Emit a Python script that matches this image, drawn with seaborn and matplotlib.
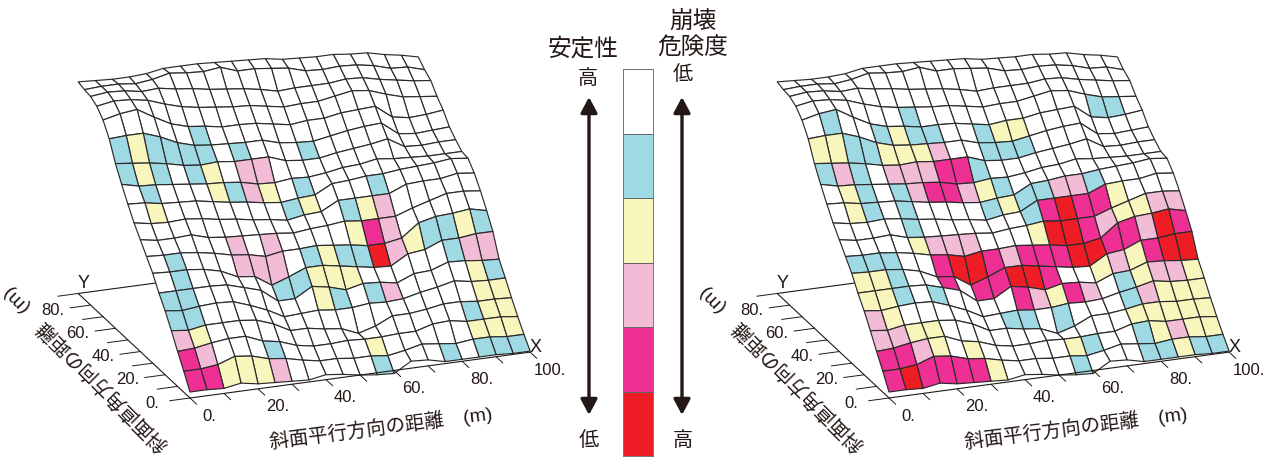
import numpy as np
import pandas as pd
import seaborn as sns
import matplotlib.pyplot as plt
from matplotlib.colors import ListedColormap, to_rgba
from mpl_toolkits.mplot3d import proj3d

# grid of the slope, metres
x_m = np.arange(0, 105, 5)
y_m = np.arange(0, 95, 5)

# ground height, first row is y = 0
surface_height = [
    [6, 6, 5, 8, 5, 4, 3, 2, 5, 3, 0, -2, -3, 7, 6, 2, 2, 2, 2, 1, 1],
    [21, 21, 23, 29, 27, 22, 20, 16, 13, 13, 11, 11, 9, 12, 16, 14, 12, 14, 14, 12, 12],
    [35, 36, 39, 41, 41, 34, 31, 25, 22, 22, 23, 22, 22, 23, 23, 28, 29, 26, 26, 26, 24],
    [50, 48, 51, 51, 51, 49, 43, 34, 34, 31, 29, 22, 27, 35, 35, 37, 40, 40, 38, 38, 37],
    [64, 62, 64, 65, 64, 58, 51, 42, 43, 44, 42, 42, 44, 43, 44, 48, 51, 55, 52, 51, 51],
    [76, 76, 76, 76, 75, 70, 65, 52, 52, 62, 59, 54, 58, 57, 54, 61, 62, 68, 67, 65, 64],
    [90, 89, 89, 87, 83, 75, 73, 62, 68, 75, 75, 72, 69, 66, 65, 75, 77, 84, 84, 86, 86],
    [101, 100, 100, 98, 95, 91, 89, 85, 88, 88, 89, 87, 85, 82, 82, 85, 98, 102, 103, 105, 101],
    [112, 109, 109, 110, 105, 103, 102, 101, 100, 98, 100, 101, 103, 101, 101, 101, 107, 112, 117, 117, 115],
    [123, 120, 119, 120, 118, 115, 113, 110, 108, 105, 108, 109, 118, 118, 118, 118, 125, 126, 126, 129, 127],
    [136, 135, 132, 131, 130, 127, 124, 122, 119, 117, 119, 120, 129, 130, 132, 132, 134, 135, 136, 138, 136],
    [150, 146, 145, 143, 141, 139, 138, 136, 132, 131, 133, 132, 134, 137, 138, 141, 139, 138, 137, 137, 137],
    [165, 163, 161, 158, 154, 152, 153, 151, 151, 151, 145, 143, 143, 146, 148, 150, 153, 143, 142, 143, 143],
    [184, 185, 185, 179, 171, 166, 164, 163, 162, 162, 157, 155, 154, 157, 160, 162, 163, 150, 148, 149, 150],
    [197, 201, 203, 193, 184, 179, 177, 174, 174, 173, 170, 167, 169, 169, 172, 173, 174, 161, 158, 159, 161],
    [205, 208, 207, 204, 198, 193, 190, 188, 186, 185, 182, 179, 180, 180, 183, 186, 184, 178, 173, 171, 169],
    [209, 211, 210, 207, 208, 205, 203, 200, 198, 196, 193, 189, 190, 190, 190, 192, 191, 187, 184, 181, 179],
    [210, 211, 211, 209, 211, 215, 213, 212, 214, 208, 208, 206, 204, 199, 198, 199, 198, 195, 190, 189, 184],
    [212, 211, 210, 210, 211, 214, 214, 214, 213, 212, 211, 210, 207, 206, 205, 205, 203, 202, 198, 195, 191],
]

# stability class of each cell, first row is y = 0
# . white, B blue, Y yellow, P pink, M magenta, R red
left_classes = [
    "MMYYYP.....B...B.BBB",
    "MP...B.....Y.....YYY",
    "PY...............BYY",
    "BB................YY",
    "BB.......YB.BP....YB",
    ".B.....BBYYY.....BPP",
    ".B...PPP.BYBBRPYBBYB",
    ".....P.P....YMP.....",
    "............BYP.....",
    ".Y.......BY...B.....",
    ".B...YBPY.B.........",
    "BYB.BY.PP...........",
    "BYBBBB.B...B........",
    ".....B..............",
    "....................",
    "....................",
    "....................",
    "....................",
]
right_classes = [
    "MRMMMMY....B...BBYBB",
    "MMPY.Y.....YB..BYPYY",
    "PPYY...........YYYYY",
    "PY......BB.B...BPYYY",
    "YYB.B....MPYMP.BYPPY",
    "YYB..M.MMRRM..YPYMRR",
    "BBB..MRRMPMMMRRMMPRM",
    "....YPPP...YRRMPYYPP",
    "....B......BMRMMY...",
    ".YB.B....BYBBPPB....",
    ".YB.BPMMPYB.........",
    "BPB.PPPMMB..........",
    "YYBBYYYP..BBB.......",
    ".B..BYBB..BYY.......",
    "......B..........BB.",
    "....................",
    "....................",
    "....................",
]

class_codes = ".BYPMR"
class_colors = ["#FFFFFF", "#9FD9E4", "#F8F6BC", "#F2BBD6", "#EE2F93", "#EE1C25"]
levels = [0, 1, 2, 3, 4, 5]

x_ticks = [0, 10, 20, 30, 40, 50, 60, 70, 80, 90, 100]
x_tick_labels = [0, 20, 40, 60, 80, 100]
y_ticks = [0, 10, 20, 30, 40, 50, 60, 70, 80, 90]
y_tick_labels = [0, 20, 40, 60, 80]

W, H = 1277, 458
INK = "#231815"
BOX = (364, 315, 235)

sns.set_theme(style="white")
plt.rcParams['font.family'] = ['Liberation Sans', 'Noto Sans CJK JP', 'DejaVu Sans']

fig = plt.figure(figsize=(W / 100, H / 100), dpi=100)
fig.patch.set_facecolor("white")


def project(ax, x, y, z):
    px, py, _ = proj3d.proj_transform(x, y, z, ax.get_proj())
    return ax.transData.transform((px, py))


def fit_axes(ax, origin_px, xend_px):
    # scale and move the 3d axes so the floor axis lands on the wanted pixels
    want_a = np.array([origin_px[0], H - origin_px[1]])
    want_b = np.array([xend_px[0], H - xend_px[1]])
    fig.canvas.draw()
    a, b = project(ax, 0, 0, 0), project(ax, 100, 0, 0)
    ax.set_box_aspect(BOX, zoom=np.linalg.norm(want_b - want_a) / np.linalg.norm(b - a))
    fig.canvas.draw()
    a = project(ax, 0, 0, 0)
    pos = ax.get_position(original=True)
    d = want_a - a
    ax.set_position([pos.x0 + d[0] / W, pos.y0 + d[1] / H, pos.width, pos.height])
    fig.canvas.draw()


def floor_text(ax, x, y, z, s, size=12):
    # 3d position to figure text, so it stays an ordinary text object
    p = project(ax, x, y, z)
    fig.text(p[0] / W, p[1] / H, s, fontsize=size, color=INK, ha='center', va='center')


def draw_slope(classes, origin_px, xend_px):
    side = 660
    ax = fig.add_axes([0.1, -0.2, side / W, side / H], projection='3d', proj_type='ortho')
    ax.view_init(elev=20.8, azim=-110.8)
    ax.set_xlim(0, 100)
    ax.set_ylim(0, 90)
    ax.set_zlim(0, 220)
    ax.set_box_aspect(BOX)
    ax.set_axis_off()
    ax.patch.set_visible(False)
    ax.computed_zorder = False

    X, Y = np.meshgrid(x_m, y_m)
    Z = np.array(surface_height, dtype=float)
    colors = np.array([[to_rgba(class_colors[class_codes.index(c)]) for c in row] for row in classes])
    surf = ax.plot_surface(X, Y, Z, facecolors=colors, rstride=1, cstride=1, shade=False, zorder=2)
    surf.set_edgecolor("#2b2b2b")
    surf.set_linewidth(0.85)

    # floor axes
    ax.plot([0, 100], [90, 90], [0, 0], color=INK, lw=0.8, zorder=1)
    ax.plot([0, 100], [0, 0], [0, 0], color=INK, lw=0.8, zorder=3)
    ax.plot([0, 0], [0, 90], [0, 0], color=INK, lw=0.8, zorder=3)
    for t in x_ticks:
        ax.plot([t, t], [0, -5.4], [0, 0], color=INK, lw=0.7, zorder=3)
    for t in y_ticks:
        ax.plot([0, -6], [t, t], [0, 0], color=INK, lw=0.7, zorder=3)
    fit_axes(ax, origin_px, xend_px)

    for t in x_tick_labels:
        floor_text(ax, t, -15.5, 0, f"{t}.")
    for t in y_tick_labels:
        floor_text(ax, -11, t, 0, f"{t}.")
    floor_text(ax, 1.5, 90, 9, "Y", 13)
    floor_text(ax, 101.5, 0, 4, "X", 13)
    return ax


draw_slope(left_classes, (190, 398), (530, 351))
draw_slope(right_classes, (889, 398), (1229, 351))

# legend bar in the middle
cax = fig.add_axes([623 / W, (H - 456) / H, 30 / W, 387 / H])
sns.heatmap(pd.DataFrame({"level": levels}), ax=cax, cmap=ListedColormap(class_colors),
            vmin=-0.5, vmax=5.5, cbar=False, xticklabels=False, yticklabels=False,
            linewidths=0.5, linecolor="#666666")
for sp in cax.spines.values():
    sp.set_visible(True)
    sp.set_color("#777777")
    sp.set_linewidth(0.7)

# overlay in pixels for the texts and arrows
ov = fig.add_axes([0, 0, 1, 1])
ov.set_xlim(0, W)
ov.set_ylim(H, 0)
ov.axis('off')
ov.patch.set_visible(False)

for x0 in [589, 682]:
    ov.annotate('', xy=(x0, 415), xytext=(x0, 97),
                arrowprops=dict(arrowstyle='<|-|>,head_length=0.47,head_width=0.25', lw=2.4,
                                color=INK, mutation_scale=20, shrinkA=0, shrinkB=0))

big = dict(fontsize=17, color=INK, ha='center', va='center')
small = dict(fontsize=14.5, color=INK, ha='center', va='center')
ov.text(583, 49, "安定性", **big)
ov.text(693, 21, "崩壊", **big)
ov.text(693, 49, "危険度", **big)
ov.text(588, 78, "高", **small)
ov.text(683, 75, "低", **small)
ov.text(589, 440, "低", **small)
ov.text(683, 441, "高", **small)

for dx_x, dx_y in [(0, 0), (695, 696)]:
    ov.text(381 + dx_x, 427, "斜面平行方向の距離　(m)", fontsize=14, color=INK, rotation=7.3,
            ha='center', va='center', rotation_mode='anchor')
    ov.text(85 + dx_y, 369, "斜面直角方向の距離　(m)", fontsize=14, color=INK, rotation=-225,
            ha='center', va='center', rotation_mode='anchor')

fig.savefig("out.png", dpi=100, facecolor="white")
